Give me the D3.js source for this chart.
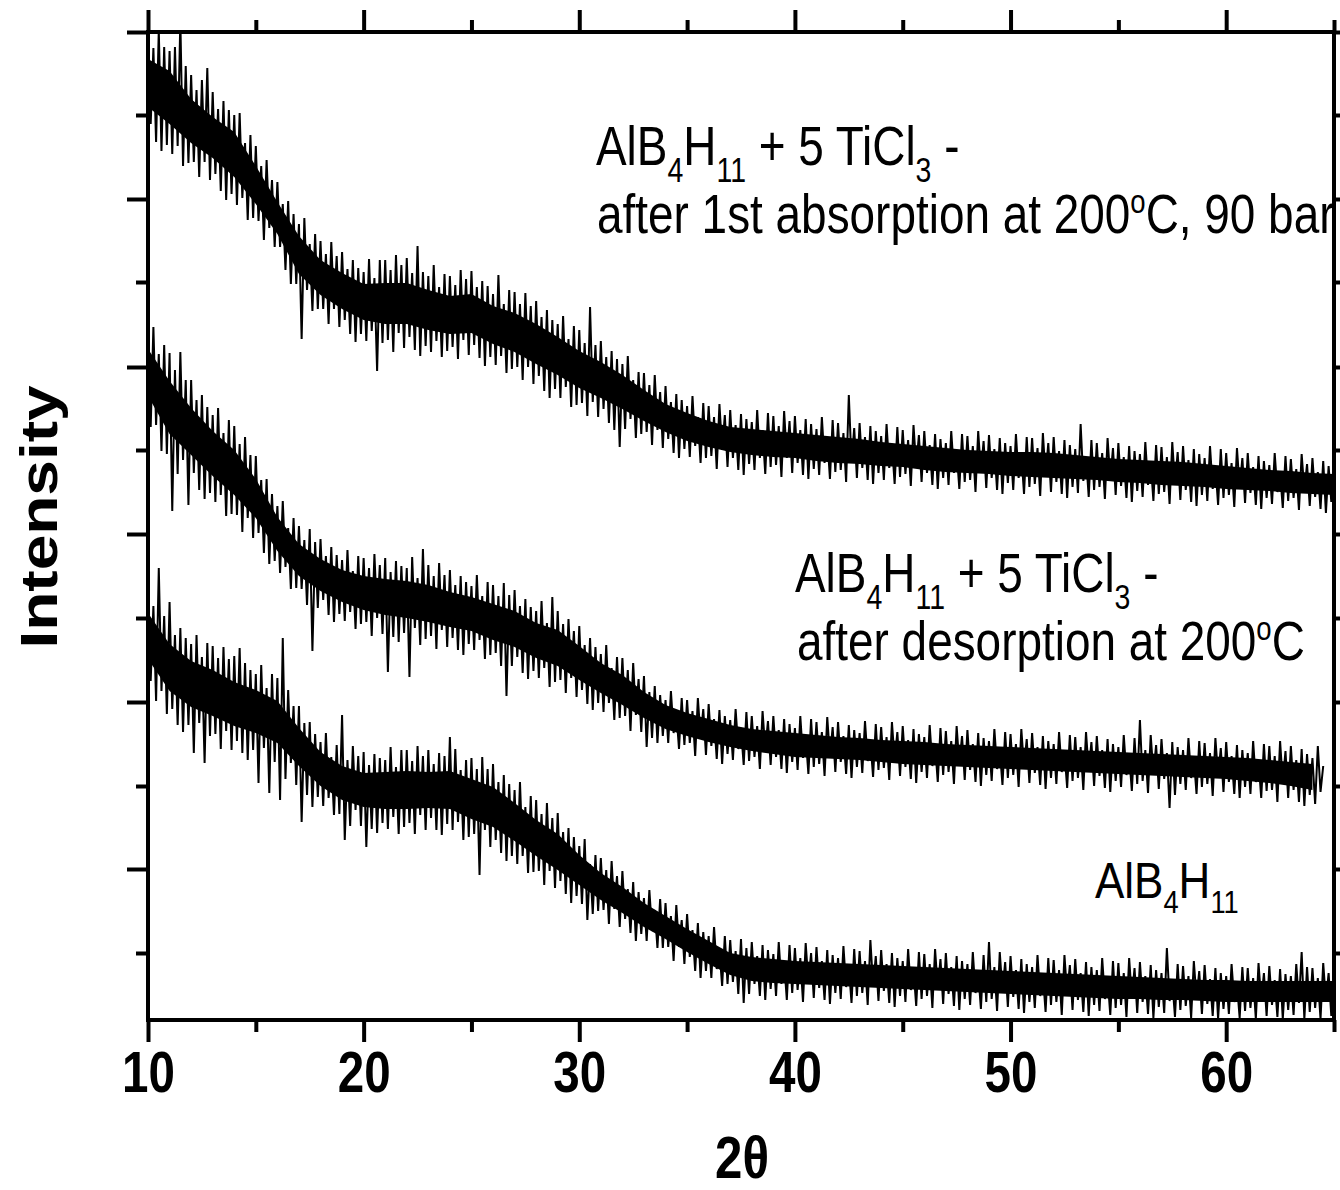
<!DOCTYPE html>
<html>
<head>
  <meta charset="utf-8">
  <title>XRD patterns of AlB4H11</title>
  <style>
    body { margin: 0; background: #fff; }
    text { font-family: "Liberation Sans", Arial, sans-serif; fill: #000; white-space: pre; }
    .axis path, .axis line { stroke: #000; stroke-width: 4; }
  </style>
</head>
<body>
<div id="chart"></div>
<script src="https://d3js.org/d3.v7.min.js"></script>
<script>
  // frame of the plot (page pixels)
  const W = 1340, H = 1190;
  const margin = { top: 32, left: 148 };
  const width = 1334 - 148, height = 1020 - 32;
  const SQUEEZE = 0.82;   // the original lettering is narrow

  // ticks
  const xMajor = [10, 20, 30, 40, 50, 60];
  const xMinor = [15, 25, 35, 45, 55, 65];
  const yMajor = [151, 318, 486, 653, 821, 988];
  const yMinor = [67, 234, 402, 570, 738, 905];

  // scans are sampled every 0.125 deg from 10 deg
  const STEP = 0.125;
  // dense middle of each noisy band, read once per degree from 10 deg
  const coreDeg = d3.range(10, 66);

  // after 1st absorption at 200 C, 90 bar (top scan), one row per degree
  const absorbed = [
    1000, 896, 972, 878, 990, 869, 973, 875,
    969, 866, 973, 874, 1000, 854, 954, 857,
    945, 858, 930, 843, 940, 858, 952, 840,
    928, 846, 911, 829, 919, 820, 910, 826,
    905, 815, 907, 822, 877, 800, 885, 802,
    874, 799, 854, 780, 860, 792, 840, 773,
    838, 773, 816, 750, 819, 736, 806, 736,
    796, 681, 802, 730, 776, 709, 786, 711,
    779, 711, 766, 696, 778, 711, 764, 693,
    768, 700, 751, 686, 760, 678, 752, 686,
    748, 679, 761, 689, 742, 649, 760, 677,
    760, 680, 750, 668, 765, 687, 755, 672,
    762, 683, 747, 670, 774, 664, 748, 674,
    744, 668, 755, 679, 733, 663, 746, 669,
    744, 673, 735, 661, 750, 680, 741, 665,
    749, 675, 733, 662, 739, 654, 734, 663,
    726, 655, 745, 664, 716, 647, 730, 651,
    728, 653, 716, 640, 727, 653, 714, 636,
    719, 644, 703, 629, 710, 622, 700, 631,
    696, 622, 704, 633, 681, 613, 694, 615,
    690, 617, 677, 604, 713, 618, 675, 603,
    679, 611, 663, 597, 669, 590, 661, 573,
    656, 591, 664, 601, 640, 582, 648, 586,
    647, 588, 635, 575, 645, 590, 628, 572,
    634, 581, 618, 567, 626, 562, 620, 571,
    614, 563, 624, 574, 603, 557, 617, 562,
    614, 564, 603, 551, 616, 570, 605, 553,
    610, 562, 595, 550, 606, 545, 601, 556,
    598, 550, 610, 562, 590, 546, 607, 553,
    604, 555, 594, 543, 609, 562, 599, 547,
    604, 557, 590, 545, 601, 541, 596, 551,
    591, 545, 603, 557, 583, 541, 600, 548,
    597, 550, 587, 538, 625, 557, 592, 542,
    597, 552, 583, 540, 594, 536, 589, 547,
    584, 540, 596, 552, 576, 536, 593, 543,
    590, 546, 580, 534, 595, 553, 585, 538,
    589, 547, 575, 535, 586, 531, 581, 542,
    577, 535, 589, 547, 569, 531, 586, 538,
    584, 540, 574, 528, 589, 547, 579, 532,
    585, 542, 571, 530, 582, 526, 577, 537,
    574, 530, 586, 542, 566, 526, 583, 533,
    582, 536, 572, 524, 587, 543, 577, 528,
    583, 538, 569, 526, 580, 522, 575, 533,
    571, 527, 596, 539, 563, 523, 580, 530,
    577, 533, 567, 521, 582, 540, 572, 525,
    577, 534, 563, 522, 574, 518, 569, 529,
    566, 523, 578, 535, 558, 519, 575, 526,
    573, 528, 563, 516, 578, 535, 568, 520,
    574, 530, 560, 518, 571, 514, 566, 525,
    562, 519, 574, 531, 554, 515, 571, 522,
    567, 525, 557, 513, 572, 532, 562, 517,
    567, 527, 553, 515, 564, 511, 559, 522,
    555, 516, 567, 528, 547, 512, 564, 519,
    561, 522, 551, 510, 566, 529, 556, 514,
    562, 523, 548, 511, 559, 507, 554, 518,
    556];
  const absorbedCoreHi = [961, 949, 921, 903, 888, 854, 818, 784, 760, 747, 736, 737, 737, 730, 724, 726, 714, 707, 696, 683,
    669, 658, 645, 630, 616, 607, 599, 593, 591, 589, 587, 585, 583, 581, 578, 576, 574, 572, 570, 569,
    568, 568, 567, 565, 563, 561, 560, 559, 558, 556, 554, 552, 550, 549, 547, 546];
  const absorbedCoreLo = [913, 896, 877, 862, 843, 816, 786, 746, 725, 711, 700, 696, 696, 690, 686, 687, 676, 668, 656, 645,
    632, 622, 611, 599, 588, 579, 573, 568, 565, 563, 562, 559, 557, 556, 554, 553, 550, 548, 547, 546,
    544, 543, 542, 541, 540, 538, 537, 535, 534, 533, 531, 530, 529, 527, 526, 525];

  // after desorption at 200 C (middle scan), stops at 64.5 deg
  const desorbed = [
    702, 593, 693, 595, 666, 569, 675, 566,
    667, 509, 650, 546, 668, 560, 640, 515,
    640, 547, 620, 530, 625, 521, 613, 527,
    605, 518, 612, 525, 587, 504, 600, 506,
    594, 505, 576, 488, 583, 502, 565, 482,
    564, 487, 540, 467, 541, 456, 526, 459,
    514, 447, 519, 453, 492, 431, 502, 432,
    494, 431, 480, 415, 491, 369, 478, 412,
    481, 420, 464, 405, 473, 398, 465, 406,
    460, 399, 470, 408, 449, 391, 464, 396,
    462, 398, 452, 384, 466, 402, 455, 386,
    462, 348, 448, 383, 459, 378, 454, 387,
    452, 343, 463, 392, 442, 375, 471, 381,
    455, 384, 444, 371, 457, 390, 445, 373,
    450, 382, 435, 370, 444, 365, 438, 376,
    434, 370, 445, 380, 424, 361, 438, 365,
    435, 367, 424, 354, 437, 324, 425, 354,
    430, 363, 414, 347, 421, 341, 413, 349,
    409, 342, 419, 352, 397, 333, 423, 338,
    409, 340, 396, 327, 401, 342, 389, 323,
    394, 330, 375, 316, 382, 310, 373, 317,
    366, 308, 375, 317, 352, 300, 363, 302,
    362, 304, 350, 289, 357, 305, 341, 288,
    344, 273, 328, 282, 334, 277, 325, 284,
    320, 277, 329, 287, 308, 271, 322, 275,
    320, 277, 309, 264, 322, 282, 311, 265,
    316, 274, 301, 261, 310, 256, 304, 266,
    300, 260, 311, 271, 291, 255, 308, 259,
    304, 263, 294, 251, 309, 270, 299, 255,
    304, 263, 290, 251, 301, 247, 296, 258,
    292, 250, 304, 262, 284, 246, 301, 253,
    298, 256, 288, 244, 303, 263, 293, 248,
    298, 258, 284, 246, 295, 242, 290, 253,
    287, 247, 299, 259, 279, 243, 296, 250,
    293, 252, 283, 240, 298, 259, 288, 244,
    294, 253, 280, 241, 291, 237, 286, 248,
    283, 242, 295, 254, 275, 238, 292, 245,
    289, 248, 279, 236, 294, 255, 284, 240,
    290, 250, 276, 238, 287, 234, 282, 245,
    279, 239, 291, 251, 271, 235, 288, 242,
    286, 245, 276, 233, 291, 252, 281, 237,
    287, 247, 273, 235, 284, 231, 279, 242,
    276, 236, 288, 248, 268, 232, 285, 239,
    283, 242, 273, 230, 288, 249, 278, 234,
    284, 244, 270, 232, 281, 228, 276, 239,
    273, 233, 285, 245, 265, 229, 282, 236,
    300, 239, 270, 227, 285, 246, 275, 231,
    281, 241, 267, 212, 278, 225, 273, 236,
    270, 230, 282, 242, 262, 226, 279, 233,
    277, 236, 267, 224, 282, 243, 272, 228,
    278, 238, 264, 226, 275, 222, 270, 233,
    267, 226, 279, 238, 259, 222, 276, 229,
    274, 230, 264, 218, 279, 237, 269, 222,
    274, 230, 260, 218, 271, 214, 266, 225,
    262, 216, 274, 228, 254];
  const desorbedCoreHi = [671, 639, 612, 589, 570, 541, 503, 476, 461, 450, 444, 441, 439, 435, 428, 423, 416, 409, 397, 390,
    374, 357, 345, 328, 315, 307, 301, 295, 291, 289, 287, 285, 283, 282, 280, 279, 278, 276, 275, 274,
    273, 272, 271, 270, 269, 268, 267, 266, 265, 264, 263, 262, 260, 258, 256];
  const desorbedCoreLo = [624, 586, 565, 544, 525, 502, 469, 444, 429, 418, 410, 405, 402, 398, 393, 389, 380, 373, 362, 354,
    340, 327, 315, 302, 291, 284, 278, 273, 269, 266, 263, 262, 261, 260, 258, 256, 255, 254, 253, 252,
    251, 250, 249, 248, 247, 246, 245, 244, 243, 242, 241, 239, 237, 234, 230];

  // AlB4H11 (bottom scan)
  const pristine = [
    432, 339, 414, 319, 452, 329, 404, 306,
    418, 311, 385, 295, 392, 288, 382, 295,
    376, 267, 385, 297, 363, 257, 377, 284,
    374, 286, 362, 271, 373, 289, 361, 270,
    364, 279, 372, 267, 357, 260, 350, 270,
    346, 237, 355, 272, 332, 227, 346, 258,
    342, 220, 382, 241, 330, 257, 314, 235,
    314, 198, 297, 225, 298, 213, 286, 223,
    278, 214, 287, 222, 263, 205, 275, 206,
    305, 180, 260, 194, 274, 210, 264, 194,
    268, 173, 255, 191, 266, 187, 262, 197,
    260, 191, 273, 203, 253, 186, 270, 193,
    270, 197, 259, 186, 274, 205, 264, 190,
    270, 202, 256, 190, 267, 185, 264, 196,
    283, 190, 271, 198, 250, 180, 260, 183,
    262, 186, 251, 145, 263, 190, 251, 173,
    256, 180, 238, 167, 245, 159, 236, 164,
    230, 156, 238, 164, 213, 147, 224, 148,
    220, 149, 206, 135, 217, 149, 202, 132,
    207, 139, 188, 126, 192, 117, 183, 124,
    174, 116, 181, 100, 156, 106, 165, 109,
    162, 110, 150, 96, 159, 111, 144, 93,
    149, 101, 131, 87, 138, 79, 128, 86,
    122, 79, 130, 89, 110, 72, 121, 72,
    117, 73, 104, 59, 115, 73, 100, 56,
    106, 63, 90, 49, 97, 42, 88, 49,
    84, 42, 93, 51, 70, 34, 84, 36,
    80, 38, 69, 26, 81, 17, 72, 26,
    78, 36, 64, 24, 75, 20, 70, 31,
    66, 24, 78, 36, 58, 20, 75, 27,
    72, 30, 62, 18, 77, 37, 67, 22,
    73, 32, 59, 20, 70, 16, 65, 27,
    62, 21, 74, 33, 54, 17, 71, 24,
    69, 27, 59, 15, 80, 34, 64, 19,
    70, 29, 56, 17, 67, 13, 62, 24,
    59, 18, 71, 30, 51, 14, 68, 21,
    66, 24, 56, 12, 71, 31, 61, 16,
    67, 26, 53, 14, 64, 10, 59, 21,
    56, 15, 68, 27, 48, 11, 65, 18,
    78, 21, 53, 9, 68, 28, 58, 13,
    64, 23, 50, 11, 61, 7, 56, 18,
    53, 12, 65, 24, 45, 8, 62, 15,
    60, 18, 50, 5, 65, 25, 55, 10,
    61, 20, 47, 8, 58, 4, 53, 15,
    50, 9, 62, 21, 42, 5, 59, 12,
    57, 15, 47, 3, 62, 22, 52, 7,
    58, 18, 44, 6, 55, 2, 50, 13,
    47, 7, 72, 19, 39, 3, 56, 10,
    54, 14, 44, 2, 59, 21, 49, 6,
    55, 16, 41, 4, 52, 1, 47, 11,
    44, 6, 56, 18, 36, 2, 53, 9,
    52, 12, 42, 1, 57, 19, 47, 4,
    54, 15, 40, 3, 51, 1, 46, 10,
    44, 5, 56, 17, 68, 1, 53, 8,
    52, 12, 42, 1, 57, 19, 47, 4,
    50];
  const pristineCoreHi = [407, 376, 359, 350, 338, 330, 319, 292, 268, 254, 247, 248, 249, 248, 249, 241, 233, 217, 200, 186,
    165, 147, 133, 117, 104, 91, 79, 67, 63, 61, 59, 58, 57, 56, 55, 54, 53, 52, 51, 50,
    49, 48, 47, 46, 45, 44, 43, 42, 41, 40, 40, 39, 39, 39, 39, 39];
  const pristineCoreLo = [361, 329, 313, 304, 294, 287, 277, 254, 234, 220, 213, 211, 211, 212, 211, 201, 193, 179, 164, 150,
    135, 120, 107, 93, 81, 68, 56, 45, 39, 37, 36, 35, 34, 33, 32, 31, 30, 29, 28, 27,
    26, 25, 24, 23, 22, 21, 21, 20, 20, 19, 18, 18, 18, 18, 18, 18];

  // annotations: [text, "" | "sub" | "sup"]
  const label1a = [["AlB", ""], ["4", "sub"], ["H", ""], ["11", "sub"], [" + 5 TiCl", ""], ["3", "sub"], [" -", ""]];
  const label1b = [["after 1st absorption at 200", ""], ["o", "sup"], ["C, 90 bar", ""]];
  const label2a = label1a;
  const label2b = [["after desorption at 200", ""], ["o", "sup"], ["C", ""]];
  const label3 = [["AlB", ""], ["4", "sub"], ["H", ""], ["11", "sub"]];

  const scans = [
    { trace: absorbed, hi: absorbedCoreHi, lo: absorbedCoreLo },
    { trace: desorbed, hi: desorbedCoreHi, lo: desorbedCoreLo },
    { trace: pristine, hi: pristineCoreHi, lo: pristineCoreLo }
  ];

  const svg = d3.select("#chart").append("svg")
    .attr("width", W).attr("height", H)
    .style("background", "#fff");

  const g = svg.append("g")
    .attr("transform", "translate(" + margin.left + "," + margin.top + ")");

  const x = d3.scaleLinear().domain([10, 65]).range([0, width]);
  const y = d3.scaleLinear().domain([0, 988]).range([height, 0]);

  g.append("clipPath").attr("id", "plotclip")
    .append("rect").attr("width", width).attr("height", height);

  const plot = g.append("g").attr("clip-path", "url(#plotclip)");

  const scanLine = d3.line()
    .x((d, i) => x(10 + i * STEP))
    .y(d => y(d));

  scans.forEach(s => {
    plot.append("path")
      .datum(d3.range(s.hi.length))
      .attr("fill", "#000")
      .attr("d", d3.area()
        .x(i => x(coreDeg[i]))
        .y0(i => y(s.lo[i]))
        .y1(i => y(s.hi[i])));
    plot.append("path")
      .datum(s.trace)
      .attr("fill", "none")
      .attr("stroke", "#000")
      .attr("stroke-width", 2)
      .attr("stroke-linejoin", "bevel")
      .attr("d", scanLine);
  });

  // axes, ticks outward on all four sides
  function axis(gen, values, size, tx, ty) {
    const a = g.append("g").attr("class", "axis")
      .attr("transform", "translate(" + tx + "," + ty + ")")
      .call(gen.tickValues(values).tickSize(size).tickSizeOuter(0).tickFormat(""));
    a.select(".domain").remove();
    return a;
  }
  axis(d3.axisTop(x), xMajor, 22, 0, 0);
  axis(d3.axisTop(x), xMinor, 12, 0, 0);
  axis(d3.axisBottom(x), xMinor, 12, 0, height);
  axis(d3.axisLeft(y), yMajor, 21, 0, 0);
  axis(d3.axisLeft(y), yMinor, 12, 0, 0);
  axis(d3.axisRight(y), yMajor, 21, width, 0);
  axis(d3.axisRight(y), yMinor, 12, width, 0);

  const bottom = g.append("g").attr("class", "axis")
    .attr("transform", "translate(0," + height + ")")
    .call(d3.axisBottom(x).tickValues(xMajor).tickSize(22).tickSizeOuter(0).tickPadding(9).tickFormat(d3.format("d")));
  bottom.select(".domain").remove();
  bottom.selectAll("text")
    .attr("font-size", 58)
    .attr("font-weight", "bold")
    .attr("font-family", "Liberation Sans, Arial, sans-serif")
    .attr("transform", "scale(" + SQUEEZE + ",1)");

  g.append("rect")
    .attr("width", width).attr("height", height)
    .attr("fill", "none").attr("stroke", "#000").attr("stroke-width", 4);

  // axis titles
  svg.append("text")
    .attr("transform", "translate(742,1178) scale(" + SQUEEZE + ",1)")
    .attr("text-anchor", "middle")
    .attr("font-size", 60).attr("font-weight", "bold")
    .text("2θ");
  svg.append("text")
    .attr("transform", "translate(57,517) rotate(-90) scale(1,0.8)")
    .attr("text-anchor", "middle")
    .attr("font-size", 64).attr("font-weight", "bold")
    .text("Intensity");

  function addLabel(parts, px, py, size, squeeze) {
    const t = svg.append("text")
      .attr("transform", "translate(" + px + "," + py + ") scale(" + squeeze + ",1)")
      .attr("font-size", size);
    let shift = 0;
    parts.forEach(p => {
      let target = 0, fs = size;
      if (p[1] === "sub") { target = size * 0.3; fs = size * 0.62; }
      if (p[1] === "sup") { target = -size * 0.36; fs = size * 0.6; }
      t.append("tspan")
        .attr("dy", target - shift)
        .attr("font-size", fs)
        .text(p[0]);
      shift = target;
    });
  }
  addLabel(label1a, 596, 165, 56, SQUEEZE);
  addLabel(label1b, 597, 233, 56, SQUEEZE);
  addLabel(label2a, 795, 592, 56, SQUEEZE);
  addLabel(label2b, 797, 660, 56, SQUEEZE);
  addLabel(label3, 1095, 898, 50, 0.88);
</script>
</body>
</html>
